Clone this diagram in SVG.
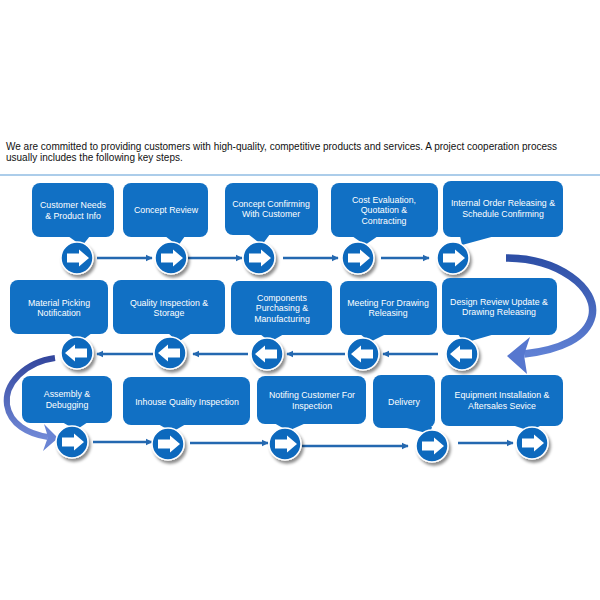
<svg xmlns="http://www.w3.org/2000/svg" xmlns:xlink="http://www.w3.org/1999/xlink" width="600" height="600" viewBox="0 0 600 600">
<style>
.box{fill:#1170C4}
.lbl{font-family:"Liberation Sans",Arial,sans-serif;font-size:8.8px;fill:#FFFFFF;text-anchor:middle}
.intro{font-family:"Liberation Sans",Arial,sans-serif;font-size:10px;fill:#111111}
.conn{stroke:#2468B0;stroke-width:2.4;fill:none;marker-end:url(#ah)}
</style>
<defs>
<marker id="ah" viewBox="0 0 10 10" refX="9" refY="5" markerWidth="3" markerHeight="3" orient="auto" markerUnits="strokeWidth">
<path d="M0,0 L10,5 L0,10 z" fill="#2468B0"/>
</marker>
<filter id="sh" x="-40%" y="-40%" width="190%" height="190%">
<feDropShadow dx="2" dy="3" stdDeviation="1.8" flood-color="#000" flood-opacity="0.45"/>
</filter>
<linearGradient id="gR" x1="0" y1="0" x2="0" y2="1">
<stop offset="0" stop-color="#2E4FA6"/>
<stop offset="1" stop-color="#5F80D4"/>
</linearGradient>
<linearGradient id="gL" x1="0" y1="0" x2="0" y2="1">
<stop offset="0" stop-color="#34479E"/>
<stop offset="1" stop-color="#7088D6"/>
</linearGradient>
<g id="cR">
<circle r="16" fill="#1069BD" stroke="#FFFFFF" stroke-width="1.5" filter="url(#sh)"/>
<path d="M-10,-4.5 L2,-4.5 L2,-8.5 L12,0 L2,8.5 L2,4.5 L-10,4.5 z" fill="#FFFFFF"/>
</g>
<g id="cL">
<circle r="16" fill="#1069BD" stroke="#FFFFFF" stroke-width="1.5" filter="url(#sh)"/>
<path d="M10,-4.5 L-2,-4.5 L-2,-8.5 L-12,0 L-2,8.5 L-2,4.5 L10,4.5 z" fill="#FFFFFF"/>
</g>
</defs>
<rect width="600" height="600" fill="#FFFFFF"/>
<g id="intro">
<text class="intro" x="6" y="150">We are committed to providing customers with high-quality, competitive products and services. A project cooperation process</text>
<text class="intro" x="6" y="161">usually includes the following key steps.</text>
<line x1="0" y1="175" x2="600" y2="175" stroke="#5B9BD5" stroke-width="1.2"/>
</g>
<g id="connectors">
<line class="conn" x1="97" y1="258" x2="152" y2="258"/>
<line class="conn" x1="188" y1="258" x2="242" y2="258"/>
<line class="conn" x1="283" y1="258" x2="338" y2="258"/>
<line class="conn" x1="381" y1="258" x2="429" y2="258"/>
<line class="conn" x1="438" y1="354" x2="383" y2="354"/>
<line class="conn" x1="345" y1="354" x2="287" y2="354"/>
<line class="conn" x1="248" y1="354" x2="193" y2="354"/>
<line class="conn" x1="153" y1="354" x2="97" y2="354"/>
<line class="conn" x1="93" y1="442" x2="152" y2="442"/>
<line class="conn" x1="190" y1="443" x2="268" y2="443"/>
<line class="conn" x1="302" y1="446" x2="408" y2="446"/>
<line class="conn" x1="458" y1="443" x2="513" y2="443"/>
<g id="loopRight">
<path d="M506,258 C558,258 598,288 592,316 C587,338 560,350 524,354" fill="none" stroke="url(#gR)" stroke-width="7.5"/>
<path d="M507,356 L530,337 L524,355 L527,374 z" fill="#5677CF"/>
</g>
<g id="loopLeft">
<path d="M55,358 C25,362 4,384 7,405 C10,424 28,434 48,437" fill="none" stroke="url(#gL)" stroke-width="6"/>
<path d="M58,438 L44,424 L48,437 L43,451 z" fill="#6A84D4"/>
</g>
</g>
<g id="n1">
<rect class="box" x="32" y="183" width="82" height="54" rx="8"/>
<polygon class="box" points="68,236 90,236 82,246"/>
<use xlink:href="#cR" x="77" y="258"/>
<text class="lbl" x="73" y="208">Customer Needs</text>
<text class="lbl" x="73" y="219">&amp; Product Info</text>
</g>
<g id="n2">
<rect class="box" x="123" y="183" width="85" height="54" rx="8"/>
<polygon class="box" points="165,236 185,236 178,246"/>
<use xlink:href="#cR" x="171" y="258"/>
<text class="lbl" x="166" y="213">Concept Review</text>
</g>
<g id="n3">
<rect class="box" x="225" y="183" width="93" height="52" rx="8"/>
<polygon class="box" points="248,234 270,234 262,245"/>
<use xlink:href="#cR" x="259" y="258"/>
<text class="lbl" x="271" y="207">Concept Confirming</text>
<text class="lbl" x="271" y="217">With Customer</text>
</g>
<g id="n4">
<rect class="box" x="331" y="183" width="107" height="54" rx="8"/>
<polygon class="box" points="352,236 378,236 365,245"/>
<use xlink:href="#cR" x="358" y="258"/>
<text class="lbl" x="384" y="203">Cost  Evaluation,</text>
<text class="lbl" x="384" y="213">Quotation  &amp;</text>
<text class="lbl" x="384" y="224">Contracting</text>
</g>
<g id="n5">
<rect class="box" x="443" y="181" width="120" height="56" rx="8"/>
<polygon class="box" points="460,236 495,236 462,245"/>
<use xlink:href="#cR" x="453" y="258"/>
<text class="lbl" x="503" y="206">Internal Order Releasing &amp;</text>
<text class="lbl" x="503" y="217">Schedule Confirming</text>
</g>
<g id="n6">
<rect class="box" x="10" y="280" width="98" height="54" rx="8"/>
<polygon class="box" points="68,333 92,333 80,342"/>
<use xlink:href="#cL" x="77" y="353"/>
<text class="lbl" x="59" y="306">Material Picking</text>
<text class="lbl" x="59" y="316">Notification</text>
</g>
<g id="n7">
<rect class="box" x="113" y="280" width="112" height="54" rx="8"/>
<polygon class="box" points="168,333 192,333 178,342"/>
<use xlink:href="#cL" x="170" y="353"/>
<text class="lbl" x="169" y="306">Quality Inspection &amp;</text>
<text class="lbl" x="169" y="316">Storage</text>
</g>
<g id="n8">
<rect class="box" x="231" y="281" width="101" height="54" rx="8"/>
<polygon class="box" points="260,334 284,334 270,342"/>
<use xlink:href="#cL" x="267" y="354"/>
<text class="lbl" x="282" y="301">Components</text>
<text class="lbl" x="282" y="311">Purchasing &amp;</text>
<text class="lbl" x="282" y="322">Manufacturing</text>
</g>
<g id="n9">
<rect class="box" x="340" y="281" width="97" height="54" rx="8"/>
<polygon class="box" points="360,334 386,334 370,342"/>
<use xlink:href="#cL" x="363" y="354"/>
<text class="lbl" x="388" y="306">Meeting For Drawing</text>
<text class="lbl" x="388" y="316">Releasing</text>
</g>
<g id="n10">
<rect class="box" x="442" y="278" width="115" height="57" rx="8"/>
<polygon class="box" points="458,334 495,334 464,343"/>
<use xlink:href="#cL" x="462" y="354"/>
<text class="lbl" x="499" y="305">Design Review Update &amp;</text>
<text class="lbl" x="499" y="315">Drawing Releasing</text>
</g>
<g id="n11">
<rect class="box" x="22" y="376" width="90" height="47" rx="8"/>
<polygon class="box" points="62,422 88,422 76,430"/>
<use xlink:href="#cR" x="72" y="442"/>
<text class="lbl" x="67" y="397">Assembly &amp;</text>
<text class="lbl" x="67" y="408">Debugging</text>
</g>
<g id="n12">
<rect class="box" x="123" y="377" width="127" height="48" rx="8"/>
<polygon class="box" points="158,424 186,424 172,432"/>
<use xlink:href="#cR" x="168" y="444"/>
<text class="lbl" x="187" y="405">Inhouse Quality Inspection</text>
</g>
<g id="n13">
<rect class="box" x="257" y="376" width="109" height="48" rx="8"/>
<polygon class="box" points="274,423 306,423 288,431"/>
<use xlink:href="#cR" x="285" y="444"/>
<text class="lbl" x="312" y="398">Notifing Customer For</text>
<text class="lbl" x="312" y="409">Inspection</text>
</g>
<g id="n14">
<rect class="box" x="373" y="375" width="62" height="53" rx="8"/>
<polygon class="box" points="403,427 432,427 430,434"/>
<use xlink:href="#cR" x="432" y="446"/>
<text class="lbl" x="404" y="405">Delivery</text>
</g>
<g id="n15">
<rect class="box" x="441" y="375" width="122" height="51" rx="8"/>
<polygon class="box" points="512,425 542,425 530,431"/>
<use xlink:href="#cR" x="532" y="443"/>
<text class="lbl" x="502" y="398">Equipment Installation  &amp;</text>
<text class="lbl" x="502" y="409">Aftersales Sevice</text>
</g>
</svg>
